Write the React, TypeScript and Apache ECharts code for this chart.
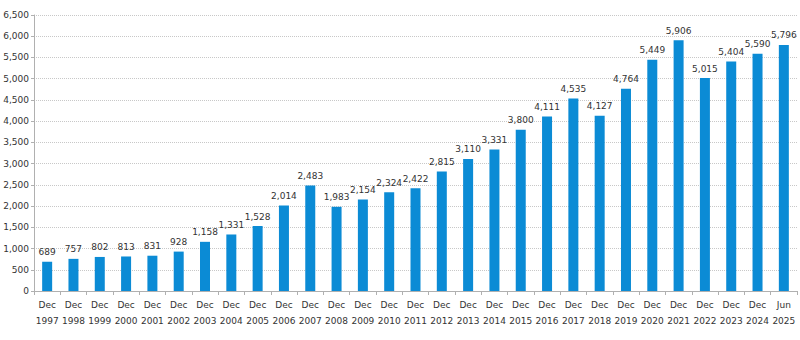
import React, { useEffect, useRef } from "react";
import * as echarts from "echarts";

const categories = [
  "Dec\n1997", "Dec\n1998", "Dec\n1999", "Dec\n2000", "Dec\n2001", "Dec\n2002", "Dec\n2003",
  "Dec\n2004", "Dec\n2005", "Dec\n2006", "Dec\n2007", "Dec\n2008", "Dec\n2009", "Dec\n2010",
  "Dec\n2011", "Dec\n2012", "Dec\n2013", "Dec\n2014", "Dec\n2015", "Dec\n2016", "Dec\n2017",
  "Dec\n2018", "Dec\n2019", "Dec\n2020", "Dec\n2021", "Dec\n2022", "Dec\n2023", "Dec\n2024",
  "Jun\n2025",
];

const values = [
  689, 757, 802, 813, 831, 928, 1158, 1331, 1528, 2014, 2483, 1983, 2154, 2324, 2422,
  2815, 3110, 3331, 3800, 4111, 4535, 4127, 4764, 5449, 5906, 5015, 5404, 5590, 5796,
];

const yMin = 0;
const yMax = 6500;
const yInterval = 500;

const FONT = "DejaVu Sans";
const fmt = (v: number) => v.toLocaleString("en-US");

export default function App() {
  const ref = useRef<HTMLDivElement>(null);
  useEffect(() => {
    if (!ref.current) return;
    const chart = echarts.init(ref.current, null, { renderer: "svg" });
    chart.setOption({
      animation: false,
      backgroundColor: "#ffffff",
      grid: { left: 34, right: 3, top: 15, bottom: 49, containLabel: false },
      xAxis: {
        type: "category",
        data: categories,
        axisLine: { lineStyle: { color: "#b0b0b0", width: 1 } },
        axisTick: { show: true, length: 4, lineStyle: { color: "#b0b0b0" } },
        axisLabel: {
          color: "#333333",
          fontFamily: FONT,
          fontSize: 9,
          lineHeight: 16,
          margin: 6,
          interval: 0,
        },
      },
      yAxis: {
        type: "value",
        min: yMin,
        max: yMax,
        interval: yInterval,
        axisLine: { show: true, lineStyle: { color: "#b0b0b0", width: 1 } },
        axisTick: { show: true, length: 3, lineStyle: { color: "#b0b0b0" } },
        axisLabel: {
          color: "#333333",
          fontFamily: FONT,
          fontSize: 9,
          margin: 5,
          formatter: (v: number) => fmt(v),
        },
        splitLine: { show: true, lineStyle: { color: "#c8c8c8", type: [1, 1], width: 1 } },
      },
      series: [
        {
          type: "bar",
          data: values,
          barWidth: 10,
          itemStyle: { color: "#0b8bd5" },
          label: {
            show: true,
            position: "top",
            distance: 5,
            color: "#333333",
            fontFamily: FONT,
            fontSize: 9,
            formatter: (p: any) => fmt(p.value),
          },
        },
      ],
    });
    return () => chart.dispose();
  }, []);
  return (
    <div
      ref={ref}
      style={{ position: "absolute", left: 0, top: 0, width: 800, height: 340 }}
    />
  );
}
